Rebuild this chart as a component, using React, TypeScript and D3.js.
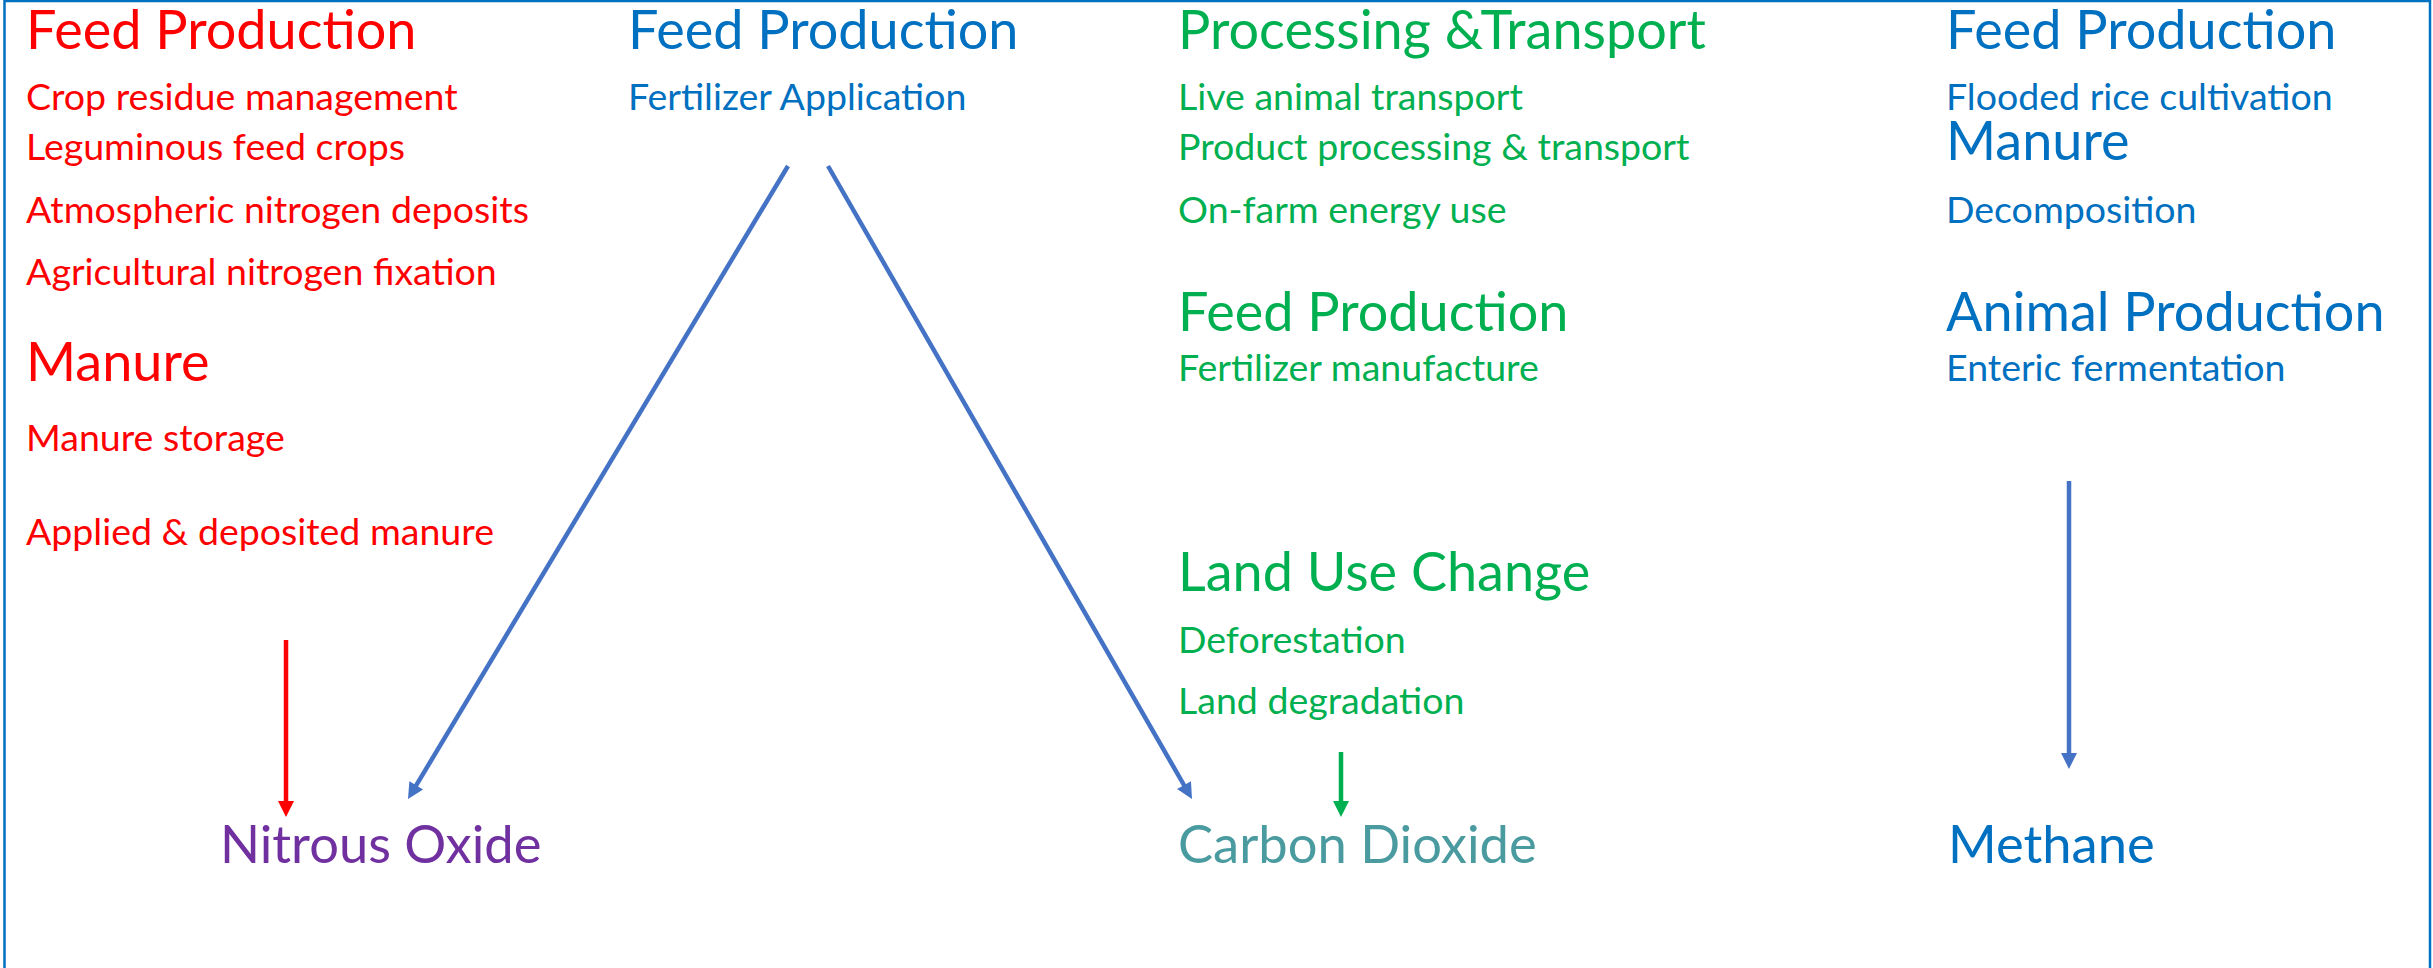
import React from 'react'
import * as d3 from 'd3'

const width = 2433
const height = 968

// one list per emission source column: [text, kind, row]
const columnKeys = ['nitrous', 'fertilizer', 'carbon', 'methane']
const columnColors = ['#FF0000', '#0070C0', '#00B050', '#0070C0']

const nitrousSources: [string, string, number][] = [
  ['Feed Production', 'head', 0],
  ['Crop residue management', 'item', 1],
  ['Leguminous feed crops', 'item', 2],
  ['Atmospheric nitrogen deposits', 'item', 3],
  ['Agricultural nitrogen fixation', 'item', 4],
  ['Manure', 'head', 6],
  ['Manure storage', 'item', 7],
  ['Applied & deposited manure', 'item', 8]
]
const fertilizerSources: [string, string, number][] = [
  ['Feed Production', 'head', 0],
  ['Fertilizer Application', 'item', 1]
]
const carbonSources: [string, string, number][] = [
  ['Processing &Transport', 'head', 0],
  ['Live animal transport', 'item', 1],
  ['Product processing & transport', 'item', 2],
  ['On-farm energy use', 'item', 3],
  ['Feed Production', 'head', 5],
  ['Fertilizer manufacture', 'item', 6],
  ['Land Use Change', 'head', 9],
  ['Deforestation', 'item', 10],
  ['Land degradation', 'item', 11]
]
const methaneSources: [string, string, number][] = [
  ['Feed Production', 'head', 0],
  ['Flooded rice cultivation', 'item', 1],
  ['Manure', 'head', 2],
  ['Decomposition', 'item', 3],
  ['Animal Production', 'head', 5],
  ['Enteric fermentation', 'item', 6]
]
const sourceLists = [nitrousSources, fertilizerSources, carbonSources, methaneSources]

const gases = ['Nitrous Oxide', 'Carbon Dioxide', 'Methane']
const gasColors = ['#7030A0', '#4A9BA0', '#0070C0']

// arrows: [x1, y1, x2, y2, colour]
const arrows: [number, number, number, number, string][] = [
  [286, 640, 286, 817, '#FF0000'],
  [788, 166, 408, 799, '#4472C4'],
  [828, 166, 1192, 799, '#4472C4'],
  [1341, 752, 1341, 817, '#00B050'],
  [2069, 481, 2069, 769, '#4472C4']
]

// layout
const rowBaselines = [49, 110, 160, 223, 285, 331, 381, 451, 545, 591, 653, 714]
const yRow = d3.scaleOrdinal<number, number>().domain(d3.range(rowBaselines.length)).range(rowBaselines)
const xCol = d3.scaleOrdinal<string, number>().domain(columnKeys).range([26, 628, 1178, 1946])
const xGas = d3.scaleOrdinal<string, number>().domain(gases).range([220, 1178, 1948])
const gasBaseline = 863

const fontFamily = "Lato, 'Open Sans', sans-serif"
const fontSize: Record<string, number> = { head: 54, item: 37.5, gas: 52.5 }

function arrowShapes(x1: number, y1: number, x2: number, y2: number, head = 16, half = 8) {
  const len = Math.hypot(x2 - x1, y2 - y1)
  const ux = (x2 - x1) / len
  const uy = (y2 - y1) / len
  const bx = x2 - ux * head
  const by = y2 - uy * head
  const shaft = d3.path()
  shaft.moveTo(x1, y1)
  shaft.lineTo(bx + ux, by + uy)
  const tip = d3.path()
  tip.moveTo(x2, y2)
  tip.lineTo(bx - uy * half, by + ux * half)
  tip.lineTo(bx + uy * half, by - ux * half)
  tip.closePath()
  return { shaft: shaft.toString(), tip: tip.toString() }
}

const App: React.FC = () => {
  return (
    <div>
      <style>{`body { margin: 0; } svg { display: block; }`}</style>
      <svg width={width} height={height} style={{ background: '#fff' }}>
        <rect x={4.5} y={1} width={2425.5} height={height + 20} fill="none" stroke="#0070C0" strokeWidth={2.5} />

        {sourceLists.map((list, ci) => (
          <g key={columnKeys[ci]} fill={columnColors[ci]} fontFamily={fontFamily}>
            {list.map(([text, kind, row], i) => (
              <text key={i} x={xCol(columnKeys[ci])} y={yRow(row)} fontSize={fontSize[kind]}>
                {text}
              </text>
            ))}
          </g>
        ))}

        {gases.map((g, i) => (
          <text key={g} x={xGas(g)} y={gasBaseline} fill={gasColors[i]} fontFamily={fontFamily} fontSize={fontSize.gas}>
            {g}
          </text>
        ))}

        {arrows.map(([x1, y1, x2, y2, color], i) => {
          const a = arrowShapes(x1, y1, x2, y2)
          return (
            <g key={i}>
              <path d={a.shaft} stroke={color} strokeWidth={4.5} fill="none" />
              <path d={a.tip} fill={color} />
            </g>
          )
        })}
      </svg>
    </div>
  )
}

export default App
